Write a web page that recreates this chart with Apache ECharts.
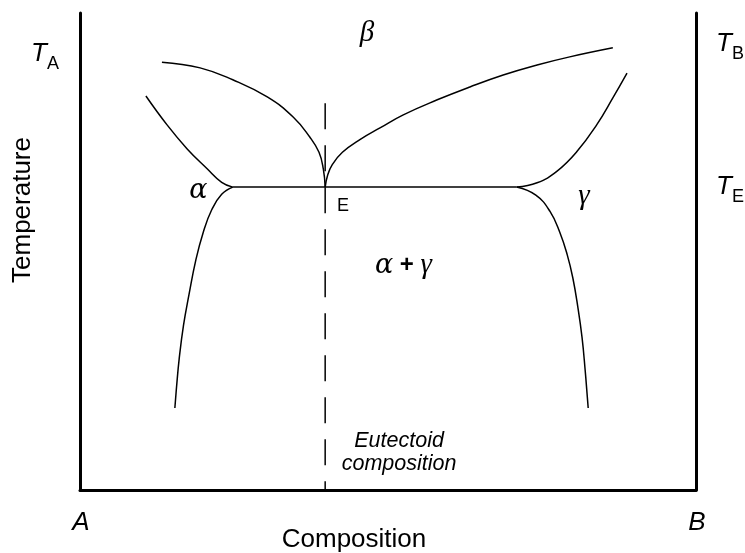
<!DOCTYPE html>
<html>
<head>
<meta charset="utf-8">
<script src="https://cdn.jsdelivr.net/npm/echarts@6/dist/echarts.min.js"></script>
<style>html,body{margin:0;padding:0;background:#fff}#c{width:745px;height:553px}</style>
</head>
<body>
<div id="c"></div>
<script>
// Composition (0 = A, 100 = B) vs temperature (arbitrary 0..100)
const eutecticX = 39.8;
const eutecticT = 63.5;
const alphaMaxX = 24.8;
const gammaMinX = 70.9;

const liquidusLeft = [[13.3,89.7],[19.5,88.5],[24.8,86.0],[30.4,82.4],[34.6,78.2],[37.3,74.0],[38.8,70.8],[39.5,67.3],[39.8,63.5]];
const liquidusRight = [[39.8,63.5],[40.2,66.0],[41.0,68.3],[42.6,70.8],[45.5,73.5],[48.7,75.9],[52.4,78.6],[58.0,81.8],[63.3,84.5],[68.7,87.0],[74.2,89.1],[79.5,90.8],[86.5,92.7]];
const alphaUpper = [[10.7,82.6],[14.1,76.6],[17.4,71.5],[20.6,67.4],[23.0,64.5],[24.8,63.5]];
const alphaLower = [[24.8,63.5],[23.0,62.0],[21.4,58.8],[20.0,54.0],[18.8,48.2],[17.7,41.0],[16.8,34.5],[16.1,27.5],[15.7,22.0],[15.4,17.2]];
const gammaUpper = [[70.9,63.5],[74.2,64.4],[77.4,66.8],[80.7,71.0],[83.9,76.6],[86.5,82.2],[88.8,87.4]];
const gammaLower = [[70.9,63.5],[74.0,61.8],[76.3,58.4],[77.9,54.0],[79.1,49.3],[80.0,44.5],[80.8,38.5],[81.5,32.0],[82.0,25.2],[82.5,17.2]];
const eutecticLine = [[alphaMaxX,eutecticT],[gammaMinX,eutecticT]];
const eutectoidComp = [[eutecticX,81.1],[eutecticX,0]];

const regionLabels = ['{g|β}','{a|α}','{g|γ}','{a|α}  {p|+}  {g|γ}','{e|E}','{i|Eutectoid}\n{i|composition}'];
const regionX = [46.6, 19.2, 81.8, 52.5, 42.7, 51.8];
const regionY = [95.8, 62.6, 61.6, 47.0, 59.5, 7.8];

const chart = echarts.init(document.getElementById('c'), null, {renderer:'canvas'});
const ls = {color:'#000', width:1.5};
function curve(name, data, smooth){
  return {name, type:'line', data, symbol:'none', smooth: smooth, lineStyle: ls, silent:true, z:3, animation:false};
}
const axisCommon = {
  type:'value', min:0, max:100,
  axisLine:{show:true, onZero:false, lineStyle:{color:'#000', width:3}},
  axisTick:{show:false}, axisLabel:{show:false}, splitLine:{show:false}
};
const greek = {fontFamily:'Liberation Serif', fontStyle:'italic', fontSize:29, color:'#000'};
const alphaStyle = {fontFamily:'DejaVu Serif', fontStyle:'italic', fontSize:27, color:'#000'};
const tRich = {
  t:{fontFamily:'Liberation Sans', fontStyle:'italic', fontSize:26, fill:'#000', verticalAlign:'bottom'},
  s:{fontFamily:'Liberation Sans', fontSize:18, fill:'#000', verticalAlign:'bottom', padding:[0,0,-6,0]}
};
chart.setOption({
  animation:false,
  backgroundColor:'#fff',
  grid:{left:80, right:49, top:13, bottom:63},
  xAxis: Object.assign({}, axisCommon),
  yAxis:[
    Object.assign({}, axisCommon, {position:'left'}),
    Object.assign({}, axisCommon, {position:'right'})
  ],
  series:[
    curve('liquidusLeft', liquidusLeft, 0.45),
    curve('liquidusRight', liquidusRight, 0.45),
    curve('alphaUpper', alphaUpper, 0.45),
    curve('alphaLower', alphaLower, 0.45),
    curve('gammaUpper', gammaUpper, 0.45),
    curve('gammaLower', gammaLower, 0.45),
    curve('eutecticLine', eutecticLine, false),
    {type:'line', data:eutectoidComp, symbol:'none', silent:true, z:2,
     lineStyle:{color:'#000', width:1.5, type:[26,16]}},
    {type:'scatter', symbolSize:0, silent:true, z:5, itemStyle:{opacity:1, color:'#000'},
     data: regionX.map((x,i)=>({value:[x, regionY[i]], label:{formatter: regionLabels[i]}})),
     label:{show:true, position:'inside', color:'#000', opacity:1, lineHeight:23, align:'center', verticalAlign:'middle',
       rich:{
         g: greek,
         a: alphaStyle,
         p: {fontFamily:'Liberation Sans', fontWeight:'bold', fontSize:24, color:'#000'},
         e: {fontFamily:'Liberation Sans', fontSize:18, color:'#000'},
         i: {fontFamily:'Liberation Sans', fontStyle:'italic', fontSize:21.5, color:'#000', lineHeight:23, align:'center'}
       }}
    }
  ],
  graphic:[
    {type:'text', x:23, y:210, rotation:Math.PI/2,
     style:{text:'Temperature', font:'26px "Liberation Sans"', fill:'#000', align:'center', verticalAlign:'middle'}},
    {type:'text', x:354, y:540,
     style:{text:'Composition', font:'26px "Liberation Sans"', fill:'#000', align:'center', verticalAlign:'middle'}},
    {type:'text', x:31, y:41, style:{text:'{t|T}{s|A}', rich:tRich}},
    {type:'text', x:716, y:31, style:{text:'{t|T}{s|B}', rich:tRich}},
    {type:'text', x:716, y:174, style:{text:'{t|T}{s|E}', rich:tRich}},
    {type:'text', x:81, y:523, style:{text:'A', font:'italic 26px "Liberation Sans"', fill:'#000', align:'center', verticalAlign:'middle'}},
    {type:'text', x:697, y:523, style:{text:'B', font:'italic 26px "Liberation Sans"', fill:'#000', align:'center', verticalAlign:'middle'}}
  ]
});
</script>
</body>
</html>
